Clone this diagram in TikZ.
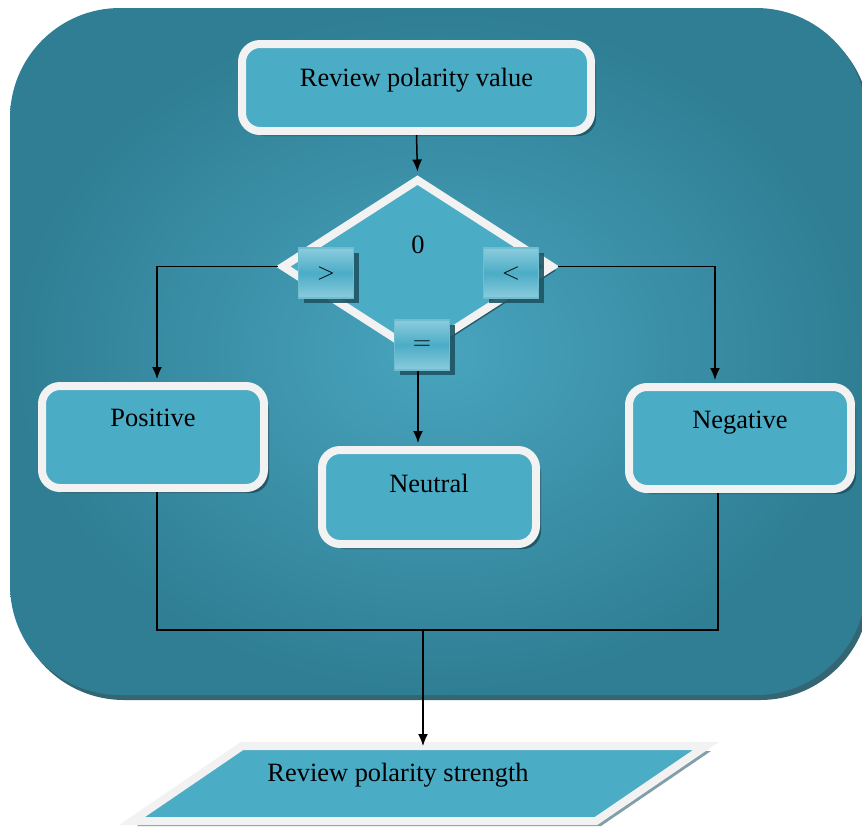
\documentclass[tikz,border=0pt]{standalone}
\usepackage{fontspec}
\setmainfont{Liberation Serif}
\usetikzlibrary{shapes.geometric,shadows,arrows.meta}

\definecolor{boxfill}{RGB}{75,172,198}
\definecolor{bgin}{RGB}{72,164,190}
\definecolor{bgout}{RGB}{47,126,147}
\definecolor{rim}{RGB}{242,242,242}
\definecolor{shade}{RGB}{30,84,100}
\definecolor{btnlight}{RGB}{140,204,221}

\tikzset{
  txt/.style={font=\fontsize{13.2}{15}\selectfont},
  stepbox/.style={txt, rectangle, rounded corners=9pt, draw=rim, line width=4pt,
    fill=boxfill, drop shadow={shadow xshift=2.5pt, shadow yshift=-2.5pt, fill=shade, opacity=.9}},
  btn/.style={txt, rectangle, minimum width=27.5pt, minimum height=25pt, inner sep=0pt,
    top color=btnlight, bottom color=btnlight, middle color=boxfill, draw=boxfill!80!white, line width=.6pt,
    drop shadow={shadow xshift=2.5pt, shadow yshift=-2.5pt, fill=shade, opacity=.9}},
  link/.style={line width=.75pt},
  arr/.style={link, ->, shorten >=1.5pt}
}

\begin{document}
\begin{tikzpicture}[x=0.5pt, y=-0.5pt, >={Latex[length=6pt,width=5pt]}]
\useasboundingbox (0,0) rectangle (862,826);

% background panel
\path[rounded corners=55pt, inner color=bgin, outer color=bgout,
  drop shadow={shadow xshift=2pt, shadow yshift=-2.5pt, fill=shade, opacity=.9}]
  (10,8) rectangle (866,695);

\node[stepbox, minimum width=174.5pt, minimum height=43.5pt, text depth=10.5pt] (review) at (416.5,87.5) {Review polarity value};

\node[diamond, draw=rim, line width=4pt, fill=boxfill, minimum width=136pt, minimum height=88pt, inner sep=0pt,
  drop shadow={shadow xshift=2pt, shadow yshift=-2pt, fill=shade, opacity=.9}] (dia) at (417.5,266.5) {};
\node[txt] (zero) at (418,245) {0};

\node[stepbox, minimum width=111pt, minimum height=51pt, text depth=19pt] (pos) at (153,437) {Positive};
\node[stepbox, minimum width=107pt, minimum height=47pt, text depth=14pt] (neu) at (429,497) {Neutral};
\node[stepbox, minimum width=111pt, minimum height=51pt, text depth=18pt] (neg) at (740,438) {Negative};

% output parallelogram
\path[draw=rim, line width=4pt, fill=boxfill, line join=miter,
  drop shadow={shadow xshift=2.5pt, shadow yshift=-2.5pt, fill=shade!70, opacity=.8}]
  (242,746) -- (706,746) -- (596,821) -- (132,821) -- cycle;
\node[txt] (strength) at (398,775) {Review polarity strength};
\coordinate (strtop) at (423,746);
\coordinate (join) at (423,630);

\draw[arr] (review.south) -- (dia.north);
\draw[arr] (dia.west) -| ([xshift=2pt]pos.north);
\draw[arr] (dia.east) -| ([xshift=-12.5pt]neg.north);
\draw[link] ([xshift=2pt]pos.south) |- (join) -| ([xshift=-11pt]neg.south);
\draw[->, link] (join) -- (strtop);

\node[btn] (gt) at (326,273) {$>$};
\node[btn] (lt) at (511,273) {$<$};
\node[btn] (eq) at (422,345) {$=$};
\draw[arr] ([xshift=-2pt]eq.south) -- ([xshift=-2pt]eq.south |- neu.north);
\end{tikzpicture}
\end{document}
